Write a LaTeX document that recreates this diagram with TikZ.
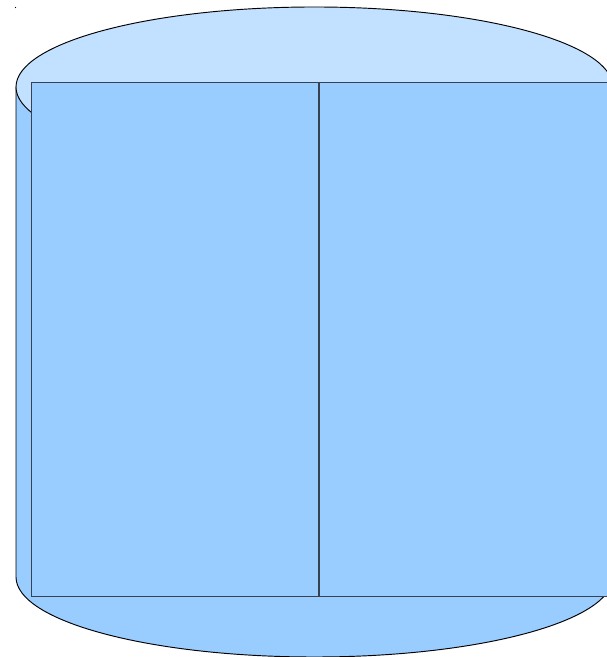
\documentclass[tikz,border=0pt]{standalone}
\usepackage{tikz}
\usetikzlibrary{positioning}
\definecolor{cylbody}{RGB}{153,204,255}
\definecolor{cyltop}{RGB}{194,224,255}
\definecolor{partline}{RGB}{55,65,80}
\tikzset{
  cylout/.style={draw=black, line width=0.8pt},
  part/.style={draw=partline, fill=cylbody, line width=0.8pt, inner sep=0pt,
               minimum width=#1, minimum height=15.42cm, anchor=south west},
}

\begin{document}
\begin{tikzpicture}[x=0.03cm, y=0.03cm]
  \useasboundingbox (0,0) rectangle (606,657);

  % ─── Cylinder: body and bottom rim ─────────────────────────────────
  \fill[black] (15.5,649.5) circle (0.6);
  \draw[cylout, fill=cylbody] (16,570) -- (16,80)
    arc[start angle=180, end angle=360, x radius=298.4, y radius=80]
    -- (612.8,570) -- cycle;

  % ─── Cylinder: top face ─────────────────────────────────────────────
  \draw[cylout, fill=cyltop] (314.4,570) ellipse[x radius=298.4, y radius=80];

  % ─── Front panel, split in two ──────────────────────────────────────
  \node[part=8.61cm] (leftpart) at (31,60) {};
  \node[part=8.64cm, right=0pt of leftpart.south east, anchor=south west] (rightpart) {};

\end{tikzpicture}
\end{document}
